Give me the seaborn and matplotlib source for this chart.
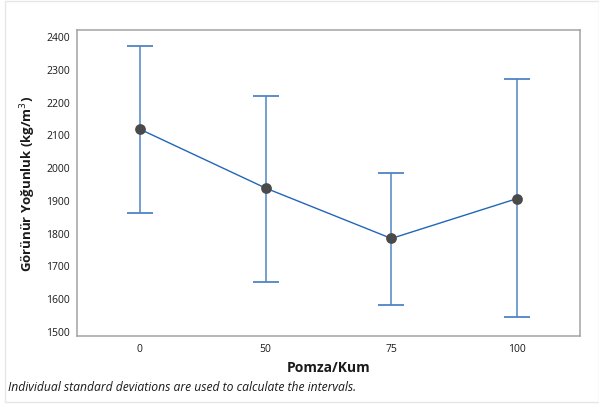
import numpy as np
import pandas as pd
import matplotlib
matplotlib.use("Agg")
import matplotlib.pyplot as plt
import seaborn as sns
from matplotlib.patches import Rectangle

categories = ["0", "50", "75", "100"]
means = [2116, 1936, 1782, 1904]
lower = [1860, 1649, 1579, 1541]
upper = [2371, 2218, 1982, 2269]
yticks = [1500, 1600, 1700, 1800, 1900, 2000, 2100, 2200, 2300, 2400]

sns.set_theme(style="white")
plt.rcParams['font.family'] = ['Open Sans', 'DejaVu Sans']

fig = plt.figure(figsize=(5.99, 4.06), dpi=100)
W, H = 599, 406
ax = fig.add_axes([77 / W, 1 - 337 / H, (580 - 77) / W, (337 - 30.7) / H])

pos = np.arange(len(categories))
df = pd.DataFrame({"pos": pos, "mean": means})

means_a = np.array(means)
err = np.vstack([means_a - np.array(lower), np.array(upper) - means_a])
ax.errorbar(pos, means_a, yerr=err, fmt="none", ecolor="#4f85c6",
            elinewidth=1.1, capsize=9.5, capthick=1.3, zorder=2)
sns.lineplot(data=df, x="pos", y="mean", color="#2166b8", linewidth=1.0,
             ax=ax, zorder=3)
sns.scatterplot(data=df, x="pos", y="mean", color="#4a4a4a", s=60,
                edgecolor="#4a4a4a", linewidth=0, ax=ax, zorder=4)

ax.set_xlim(-0.5, 3.5)
ax.set_ylim(1484, 2420)
ax.set_xticks(pos)
ax.set_xticklabels(categories)
ax.set_yticks(yticks)
ax.tick_params(axis="both", which="both", length=3, width=0.8, color="#8c8c8c",
               labelsize=7.5, labelcolor="#1a1a1a", pad=2, direction="out")
ax.tick_params(axis="x", length=3, pad=2, labelsize=7.5)
for sp in ax.spines.values():
    sp.set_color("#a3a3a3")
    sp.set_linewidth(1.1)

ax.set_xlabel("Pomza/Kum", fontsize=10, fontweight="bold", color="#1a1a1a", labelpad=4)
ax.set_ylabel("Görünür Yoğunluk (kg/m$^3$)", fontsize=9.5, fontweight="bold",
              color="#1a1a1a", labelpad=6)

fig.text(8 / W, 1 - 388 / H, "Individual standard deviations are used to calculate the intervals.",
         fontsize=8.7, style="italic", color="#1a1a1a", va="center", ha="left")

fig.patches.append(Rectangle((5 / W, 1 - 403 / H), (W - 5) / W, (403 - 2) / H,
                             transform=fig.transFigure, fill=False,
                             edgecolor="#e6e6e6", linewidth=1.0))

fig.savefig("out.png", dpi=100)
